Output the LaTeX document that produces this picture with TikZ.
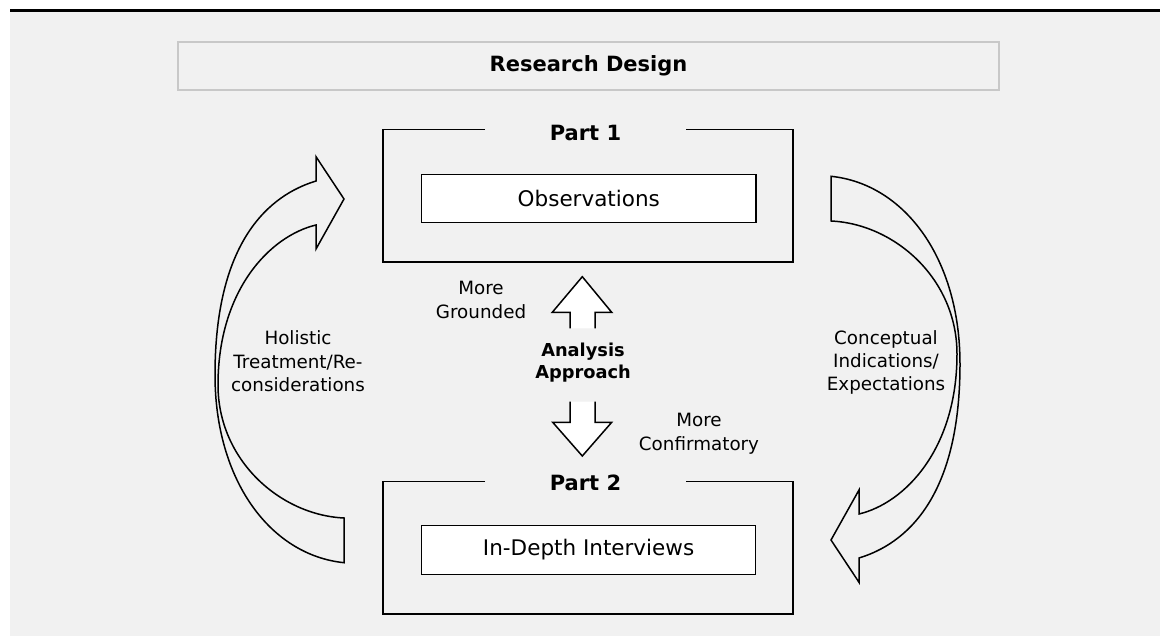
\documentclass[tikz,border=0pt]{standalone}
\usepackage{fontspec}
\setmainfont{DejaVu Sans}
\definecolor{bg}{HTML}{F1F1F1}
\definecolor{tb}{HTML}{C8C8C8}
\begin{document}
\begin{tikzpicture}[x=1pt,y=-1pt,
  big/.style={font=\fontsize{21.5}{26}\selectfont},
  bigb/.style={font=\fontsize{21}{26}\selectfont\bfseries},
  small/.style={font=\fontsize{18.3}{23.3}\selectfont, align=center, inner sep=0pt},
  smallb/.style={font=\fontsize{17.8}{22.5}\selectfont\bfseries, align=center, inner sep=0pt},
  line/.style={line width=1.5pt, black},
  innerbox/.style={draw, line width=1.5pt, fill=white, inner sep=0pt, big},
  titlebox/.style={draw=tb, line width=1.6pt, fill=bg, inner sep=0pt, minimum width=821pt, minimum height=48pt, bigb},
  bigarrow/.style={line width=1.5pt, fill=white, line join=miter},
  curvarrow/.style={line width=1.5pt, line join=miter}
]
\useasboundingbox (0,0) rectangle (1160,636);
\fill[bg] (10,12) rectangle (1160,636);
\fill[black] (10,9) rectangle (1160,12.3);

% title
\node[titlebox] (title) at (588.5,66) {Research Design};

% Part 1
\node[bigb, inner sep=0pt] (p1) at (585.5,132.7) {Part 1};
\draw[line] (485,129.5) -| (383,262) -| (793,129.5) -- (686,129.5);
\node[innerbox, minimum width=334.3pt, minimum height=48pt] (obs) at (588.8,198.3) {Observations};

% Part 2
\node[bigb, inner sep=0pt] (p2) at (585.5,482.5) {Part 2};
\draw[line] (485,481.7) -| (383,614) -| (793,481.7) -- (686,481.7);
\node[innerbox, minimum width=333.8pt, minimum height=48.6pt] (idi) at (588.6,550) {In-Depth Interviews};

% Analysis approach
\node[smallb, anchor=base] (ana) at (583,379) {Analysis\\Approach};
\filldraw[bigarrow] (570,328.3) -- (570,312.3) -- (552.3,312.3) -- (582.3,276.7) -- (611.7,312.3) -- (595,312.3) -- (595,328.3);
\filldraw[bigarrow] (570,401.7) -- (570,422.3) -- (552.7,422.3) -- (582.3,456) -- (611.7,422.3) -- (595,422.3) -- (595,401.7);
\node[small, anchor=base] (grounded) at (481,318.3) {More\\Grounded};
\node[small, anchor=base] (confirm) at (699,450) {More\\Confirmatory};

% left curved arrow
\draw[curvarrow] (344,518) -- (344,562.7)
  .. controls (270,555) and (215,480) .. (215,375)
  .. controls (215,240) and (270,195) .. (316,181)
  -- (316,156.7) -- (344,199) -- (316,249) -- (316,225)
  .. controls (270,236) and (218,290) .. (218,385)
  .. controls (218,460) and (280,515) .. (344,518) -- cycle;
\node[small, anchor=base] (holistic) at (298,391.6) {Holistic\\Treatment/Re-\\considerations};

% right curved arrow
\begin{scope}[rotate around={180:(587.5,369.5)}]
\draw[curvarrow] (344,518) -- (344,562.7)
  .. controls (270,555) and (215,480) .. (215,375)
  .. controls (215,240) and (270,195) .. (316,181)
  -- (316,156.7) -- (344,199) -- (316,249) -- (316,225)
  .. controls (270,236) and (218,290) .. (218,385)
  .. controls (218,460) and (280,515) .. (344,518) -- cycle;
\end{scope}
\node[small, anchor=base] (concept) at (886,391) {Conceptual\\Indications/\\Expectations};
\end{tikzpicture}
\end{document}
